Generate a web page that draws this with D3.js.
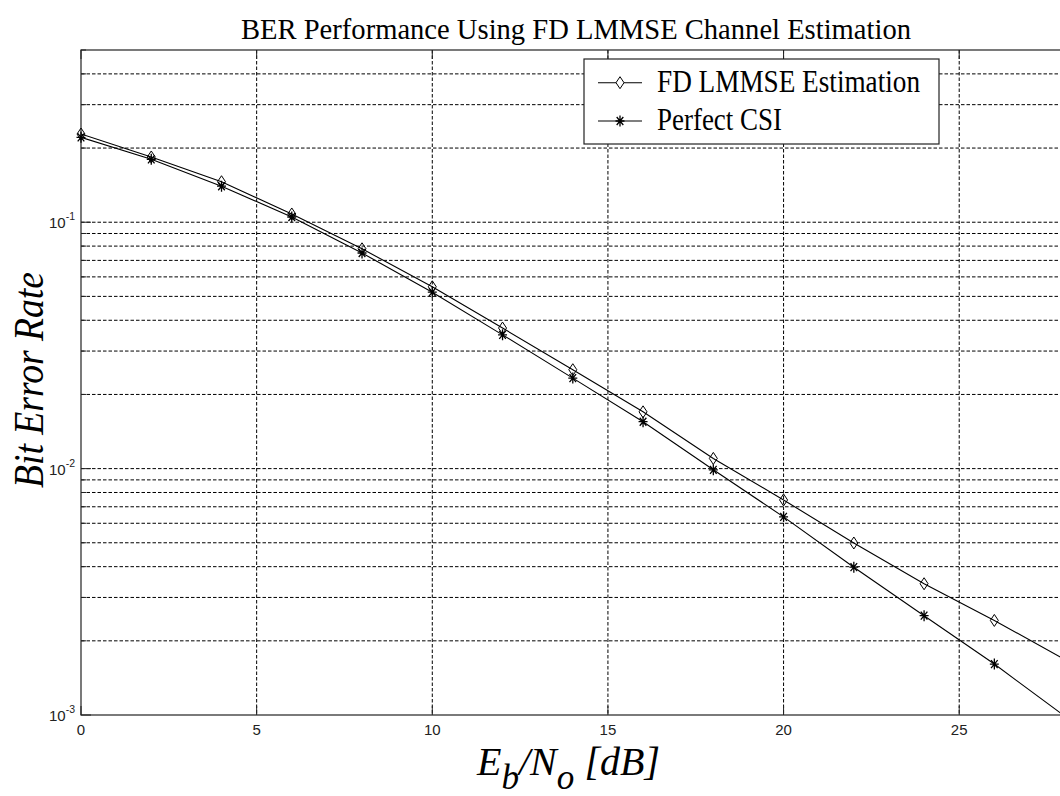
<!DOCTYPE html>
<html>
<head>
<meta charset="utf-8">
<script src="https://cdn.jsdelivr.net/npm/d3@7"></script>
<style>
  html, body { margin: 0; padding: 0; background: #fff; }
  svg { display: block; }
</style>
</head>
<body>
<svg id="chart" width="1060" height="796"></svg>
<script>
// Eb/No sweep (dB) and measured bit error rates
const snrDb = [0, 2, 4, 6, 8, 10, 12, 14, 16, 18, 20, 22, 24, 26, 28];
const berLmmse = [0.228, 0.184, 0.146, 0.108, 0.078, 0.0547, 0.0372, 0.0252, 0.0170, 0.0110, 0.00746, 0.00499, 0.00341, 0.00242, 0.00168];
const berPerfect = [0.221, 0.180, 0.140, 0.105, 0.075, 0.0520, 0.0349, 0.0233, 0.0155, 0.00989, 0.00637, 0.00398, 0.00253, 0.00161, 0.00099];
const seriesNames = ["FD LMMSE Estimation", "Perfect CSI"];
const xTickValues = [0, 5, 10, 15, 20, 25];
const yMajorTicks = [1e-1, 1e-2, 1e-3];
const yTickExponents = ["-1", "-2", "-3"];
const titleText = "BER Performance Using FD LMMSE Channel Estimation";
const yLabelText = "Bit Error Rate";

const svg = d3.select("#chart");
const box = { left: 81, top: 50, bottom: 715, right: 1064.6 };

const x = d3.scaleLinear().domain([0, 28]).range([box.left, box.right]);
const y = d3.scaleLog().domain([1e-3, 0.5]).range([box.bottom, box.top]);

// minor + major log grid values
const yGrid = [];
for (let e = -3; e <= -1; e++) {
  for (let m = 1; m <= 9; m++) {
    const v = m * Math.pow(10, e);
    if (v >= 1e-3 && v <= 0.5 + 1e-9) yGrid.push(v);
  }
}

const axisColor = "#222";
const gridG = svg.append("g");
// horizontal grid lines
gridG.selectAll("line.h").data(yGrid.filter(v => v > 1e-3 && v < 0.5)).join("line")
  .attr("class", "h")
  .attr("x1", box.left).attr("x2", box.right)
  .attr("y1", d => y(d)).attr("y2", d => y(d))
  .attr("stroke", "#000").attr("stroke-width", 1)
  .attr("stroke-dasharray", "3.5,2");
// vertical grid lines
gridG.selectAll("line.v").data(xTickValues.filter(v => v > 0)).join("line")
  .attr("class", "v")
  .attr("x1", d => x(d)).attr("x2", d => x(d))
  .attr("y1", box.top).attr("y2", box.bottom)
  .attr("stroke", "#000").attr("stroke-width", 1)
  .attr("stroke-dasharray", "3.5,2");

// tick marks (inward, on all sides)
const tickG = svg.append("g").attr("stroke", axisColor).attr("stroke-width", 1);
xTickValues.forEach(v => {
  tickG.append("line").attr("x1", x(v)).attr("x2", x(v)).attr("y1", box.bottom).attr("y2", box.bottom - 9);
  tickG.append("line").attr("x1", x(v)).attr("x2", x(v)).attr("y1", box.top).attr("y2", box.top + 9);
});
yGrid.forEach(v => {
  const major = yMajorTicks.some(t => Math.abs(t - v) < 1e-12);
  const len = major ? 10 : 5;
  tickG.append("line").attr("x1", box.left).attr("x2", box.left + len).attr("y1", y(v)).attr("y2", y(v));
});

// axes box
svg.append("rect")
  .attr("x", box.left).attr("y", box.top)
  .attr("width", box.right - box.left).attr("height", box.bottom - box.top)
  .attr("fill", "none").attr("stroke", axisColor).attr("stroke-width", 1.2);

// x tick labels
svg.append("g").selectAll("text").data(xTickValues).join("text")
  .attr("x", d => x(d)).attr("y", 735)
  .attr("text-anchor", "middle")
  .attr("font-family", "Liberation Sans, Arial, sans-serif")
  .attr("font-size", 15).attr("fill", "#222")
  .text(d => d);

// y tick labels 10^n
yMajorTicks.forEach((v, i) => {
  const t = svg.append("text")
    .attr("x", 75).attr("y", y(v) + 6)
    .attr("text-anchor", "end")
    .attr("font-family", "Liberation Sans, Arial, sans-serif")
    .attr("fill", "#222");
  t.append("tspan").attr("font-size", 15).text("10");
  t.append("tspan").attr("font-size", 10.5).attr("dy", -8).text(yTickExponents[i]);
});

// curves
svg.append("clipPath").attr("id", "plotClip")
  .append("rect").attr("x", box.left).attr("y", box.top)
  .attr("width", box.right - box.left).attr("height", box.bottom - box.top);

const line = d3.line().x(d => x(d[0])).y(d => y(d[1]));
const dataLmmse = snrDb.map((s, i) => [s, berLmmse[i]]);
const dataPerfect = snrDb.map((s, i) => [s, berPerfect[i]]);

const plotG = svg.append("g");
plotG.append("path").datum(dataLmmse).attr("d", line)
  .attr("fill", "none").attr("stroke", "#000").attr("stroke-width", 1.1)
  .attr("clip-path", "url(#plotClip)");
plotG.append("path").datum(dataPerfect).attr("d", line)
  .attr("fill", "none").attr("stroke", "#000").attr("stroke-width", 1.1)
  .attr("clip-path", "url(#plotClip)");

// marker shapes
const diamondPath = (cx, cy) => `M${cx},${cy - 6}L${cx + 4},${cy}L${cx},${cy + 6}L${cx - 4},${cy}Z`;
const starPath = (cx, cy) =>
  `M${cx - 4.5},${cy}L${cx + 4.5},${cy}M${cx},${cy - 5.5}L${cx},${cy + 5.5}` +
  `M${cx - 3.3},${cy - 4}L${cx + 3.3},${cy + 4}M${cx - 3.3},${cy + 4}L${cx + 3.3},${cy - 4}`;

plotG.selectAll("path.dia").data(dataLmmse.filter(d => y(d[1]) <= box.bottom)).join("path")
  .attr("class", "dia")
  .attr("d", d => diamondPath(x(d[0]), y(d[1])))
  .attr("fill", "none").attr("stroke", "#000").attr("stroke-width", 1);
plotG.selectAll("path.star").data(dataPerfect.filter(d => y(d[1]) <= box.bottom)).join("path")
  .attr("class", "star")
  .attr("d", d => starPath(x(d[0]), y(d[1])))
  .attr("fill", "none").attr("stroke", "#000").attr("stroke-width", 1.3);

// legend
const lg = svg.append("g");
lg.append("rect").attr("x", 584).attr("y", 59).attr("width", 355).attr("height", 85)
  .attr("fill", "#fff").attr("stroke", "#222").attr("stroke-width", 1.2);
const legendRows = [
  { name: seriesNames[0], cy: 82.7, base: 92, len: 263, marker: diamondPath, sw: 1 },
  { name: seriesNames[1], cy: 121, base: 130, len: 125, marker: starPath, sw: 1.3 }
];
legendRows.forEach(r => {
  lg.append("line").attr("x1", 598).attr("x2", 642).attr("y1", r.cy).attr("y2", r.cy)
    .attr("stroke", "#000").attr("stroke-width", 1.1);
  lg.append("path").attr("d", r.marker(620, r.cy)).attr("fill", "#fff")
    .attr("stroke", "#000").attr("stroke-width", r.sw);
  lg.append("text").attr("x", 657).attr("y", r.base)
    .attr("font-family", "Liberation Serif, Times New Roman, serif")
    .attr("font-size", 31).attr("fill", "#000")
    .attr("textLength", r.len).attr("lengthAdjust", "spacingAndGlyphs")
    .text(r.name);
});

// title
svg.append("text").attr("x", 241).attr("y", 39)
  .attr("font-family", "Liberation Serif, Times New Roman, serif")
  .attr("font-size", 29).attr("fill", "#000")
  .attr("textLength", 670).attr("lengthAdjust", "spacingAndGlyphs")
  .text(titleText);

// y label
svg.append("text")
  .attr("transform", "translate(43,488) rotate(-90)")
  .attr("font-family", "Liberation Serif, Times New Roman, serif")
  .attr("font-style", "italic")
  .attr("font-size", 43).attr("fill", "#000")
  .attr("textLength", 216).attr("lengthAdjust", "spacingAndGlyphs")
  .text(yLabelText);

// x label: E_b/N_o [dB]
const xl = svg.append("text")
  .attr("x", 477).attr("y", 775)
  .attr("font-family", "Liberation Serif, Times New Roman, serif")
  .attr("font-style", "italic").attr("fill", "#000")
  .attr("textLength", 183).attr("lengthAdjust", "spacingAndGlyphs");
xl.append("tspan").attr("font-size", 41).text("E");
xl.append("tspan").attr("font-size", 36).attr("dy", 14).text("b");
xl.append("tspan").attr("font-size", 41).attr("dy", -14).text("/N");
xl.append("tspan").attr("font-size", 36).attr("dy", 14).text("o");
xl.append("tspan").attr("font-size", 41).attr("dy", -14).text(" [dB]");
</script>
</body>
</html>
